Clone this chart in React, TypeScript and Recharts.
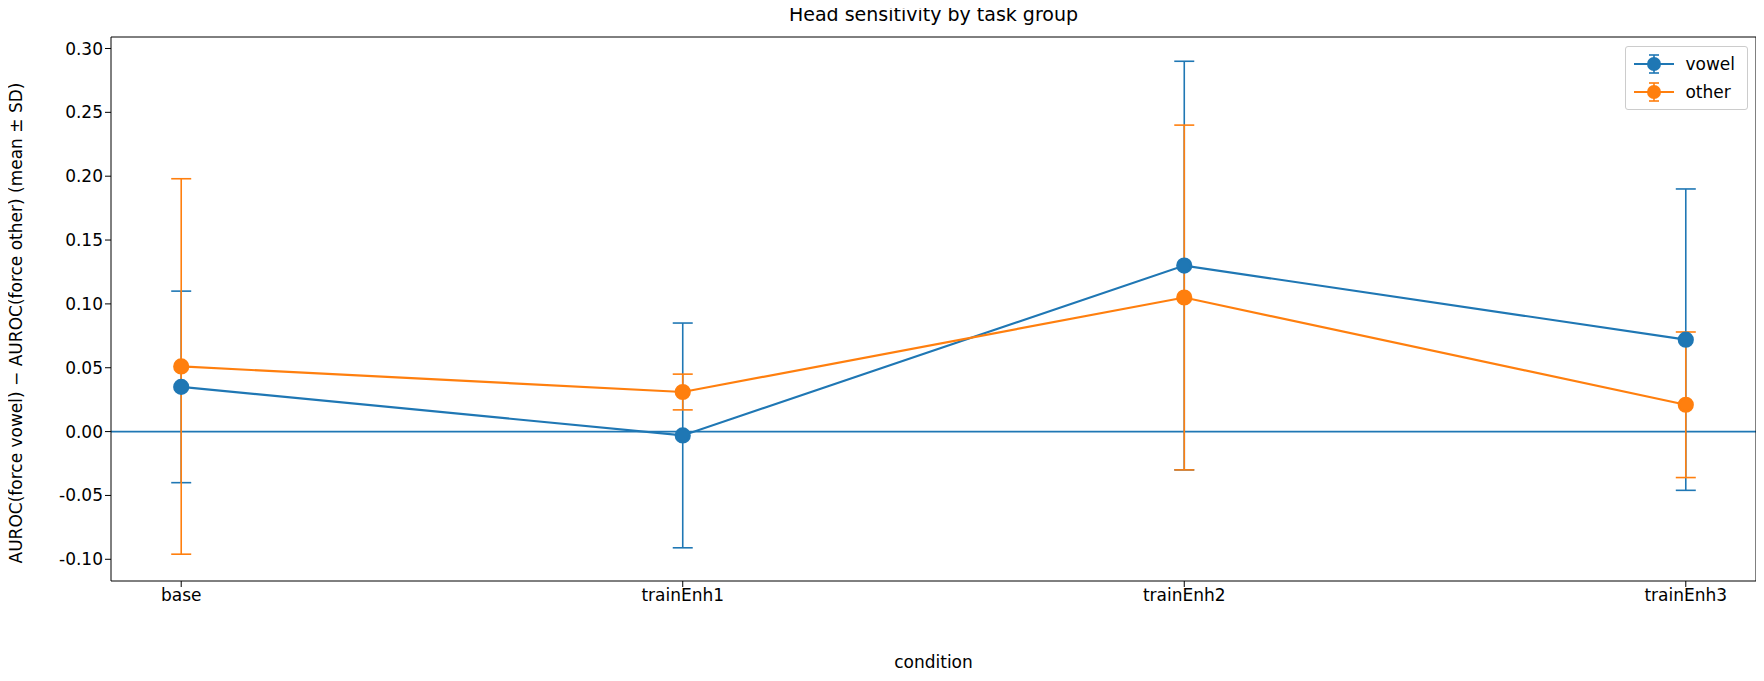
import { ComposedChart, Line, XAxis, YAxis, ErrorBar, ReferenceLine } from 'recharts'

const conditions = ['base', 'trainEnh1', 'trainEnh2', 'trainEnh3']
const vowelMean = [0.035, -0.003, 0.13, 0.072]
const vowelSd = [0.075, 0.088, 0.16, 0.118]
const otherMean = [0.051, 0.031, 0.105, 0.021]
const otherSd = [0.147, 0.014, 0.135, 0.057]
const yTicks = [-0.1, -0.05, 0, 0.05, 0.1, 0.15, 0.2, 0.25, 0.3]

const data = conditions.map((c, i) => ({
  x: i,
  vowel: vowelMean[i],
  vowelErr: vowelSd[i],
  other: otherMean[i],
  otherErr: otherSd[i],
}))

const BLUE = '#1f77b4'
const ORANGE = '#ff7f0e'
const font = 'DejaVu Sans, sans-serif'
const tick = { fontSize: 17, fill: '#000', fontFamily: font }

function LegendRow({ color, label }: { color: string; label: string }) {
  return (
    <div style={{ display: 'flex', alignItems: 'center', height: 28 }}>
      <svg width={44} height={24}>
        <line x1={2} y1={12} x2={42} y2={12} stroke={color} strokeWidth={2.2} />
        <line x1={22} y1={3} x2={22} y2={21} stroke={color} strokeWidth={1.6} />
        <line x1={17} y1={3} x2={27} y2={3} stroke={color} strokeWidth={1.6} />
        <line x1={17} y1={21} x2={27} y2={21} stroke={color} strokeWidth={1.6} />
        <circle cx={22} cy={12} r={7} fill={color} />
      </svg>
      <span style={{ marginLeft: 9, fontSize: 17 }}>{label}</span>
    </div>
  )
}

export default function App() {
  return (
    <div style={{ position: 'relative', width: 1764, height: 681, margin: -8, fontFamily: font, background: '#fff' }}>
      <div style={{ position: 'absolute', top: 3, left: 111, width: 1645, textAlign: 'center', fontSize: 19 }}>
        Head sensitivity by task group
      </div>
      <div style={{ position: 'absolute', top: 46, right: 16, border: '1px solid #ccc', borderRadius: 3, padding: '3px 12px 3px 6px', background: '#fff', zIndex: 2 }}>
        <LegendRow color={BLUE} label="vowel" />
        <LegendRow color={ORANGE} label="other" />
      </div>
      <div style={{ position: 'absolute', top: 652, left: 111, width: 1645, textAlign: 'center', fontSize: 17 }}>condition</div>
      <div style={{ position: 'absolute', left: 16, top: 323, width: 0, height: 0 }}>
        <div style={{ position: 'absolute', left: 0, top: 0, transform: 'translate(-50%,-50%) rotate(-90deg)', whiteSpace: 'nowrap', fontSize: 17, lineHeight: '20px' }}>
          AUROC(force vowel) − AUROC(force other) (mean ± SD)
        </div>
      </div>
      <ComposedChart width={1764} height={681} data={data} margin={{ top: 37, right: 8, bottom: 70, left: 0 }}>
        <XAxis
          type="number"
          dataKey="x"
          domain={[-0.14, 3.14]}
          ticks={[0, 1, 2, 3]}
          tickFormatter={(v) => conditions[v as number]}
          tick={tick}
          stroke="#000"
          tickSize={6}
        />
        <YAxis
          type="number"
          domain={[-0.117, 0.309]}
          ticks={yTicks}
          tickFormatter={(v) => (v as number).toFixed(2)}
          tick={tick}
          width={111}
          stroke="#000"
          tickSize={6}
        />
        <ReferenceLine y={0} stroke={BLUE} strokeWidth={1.6} />
        <Line dataKey="vowel" stroke={BLUE} strokeWidth={2.2} isAnimationActive={false} dot={{ r: 7, fill: BLUE, stroke: BLUE }}>
          <ErrorBar dataKey="vowelErr" stroke={BLUE} strokeWidth={1.6} width={10} direction="y" />
        </Line>
        <Line dataKey="other" stroke={ORANGE} strokeWidth={2.2} isAnimationActive={false} dot={{ r: 7, fill: ORANGE, stroke: ORANGE }}>
          <ErrorBar dataKey="otherErr" stroke={ORANGE} strokeWidth={1.6} width={10} direction="y" />
        </Line>
        <ReferenceLine y={0.309} stroke="#000" />
        <ReferenceLine x={3.14} stroke="#000" />
      </ComposedChart>
    </div>
  )
}
